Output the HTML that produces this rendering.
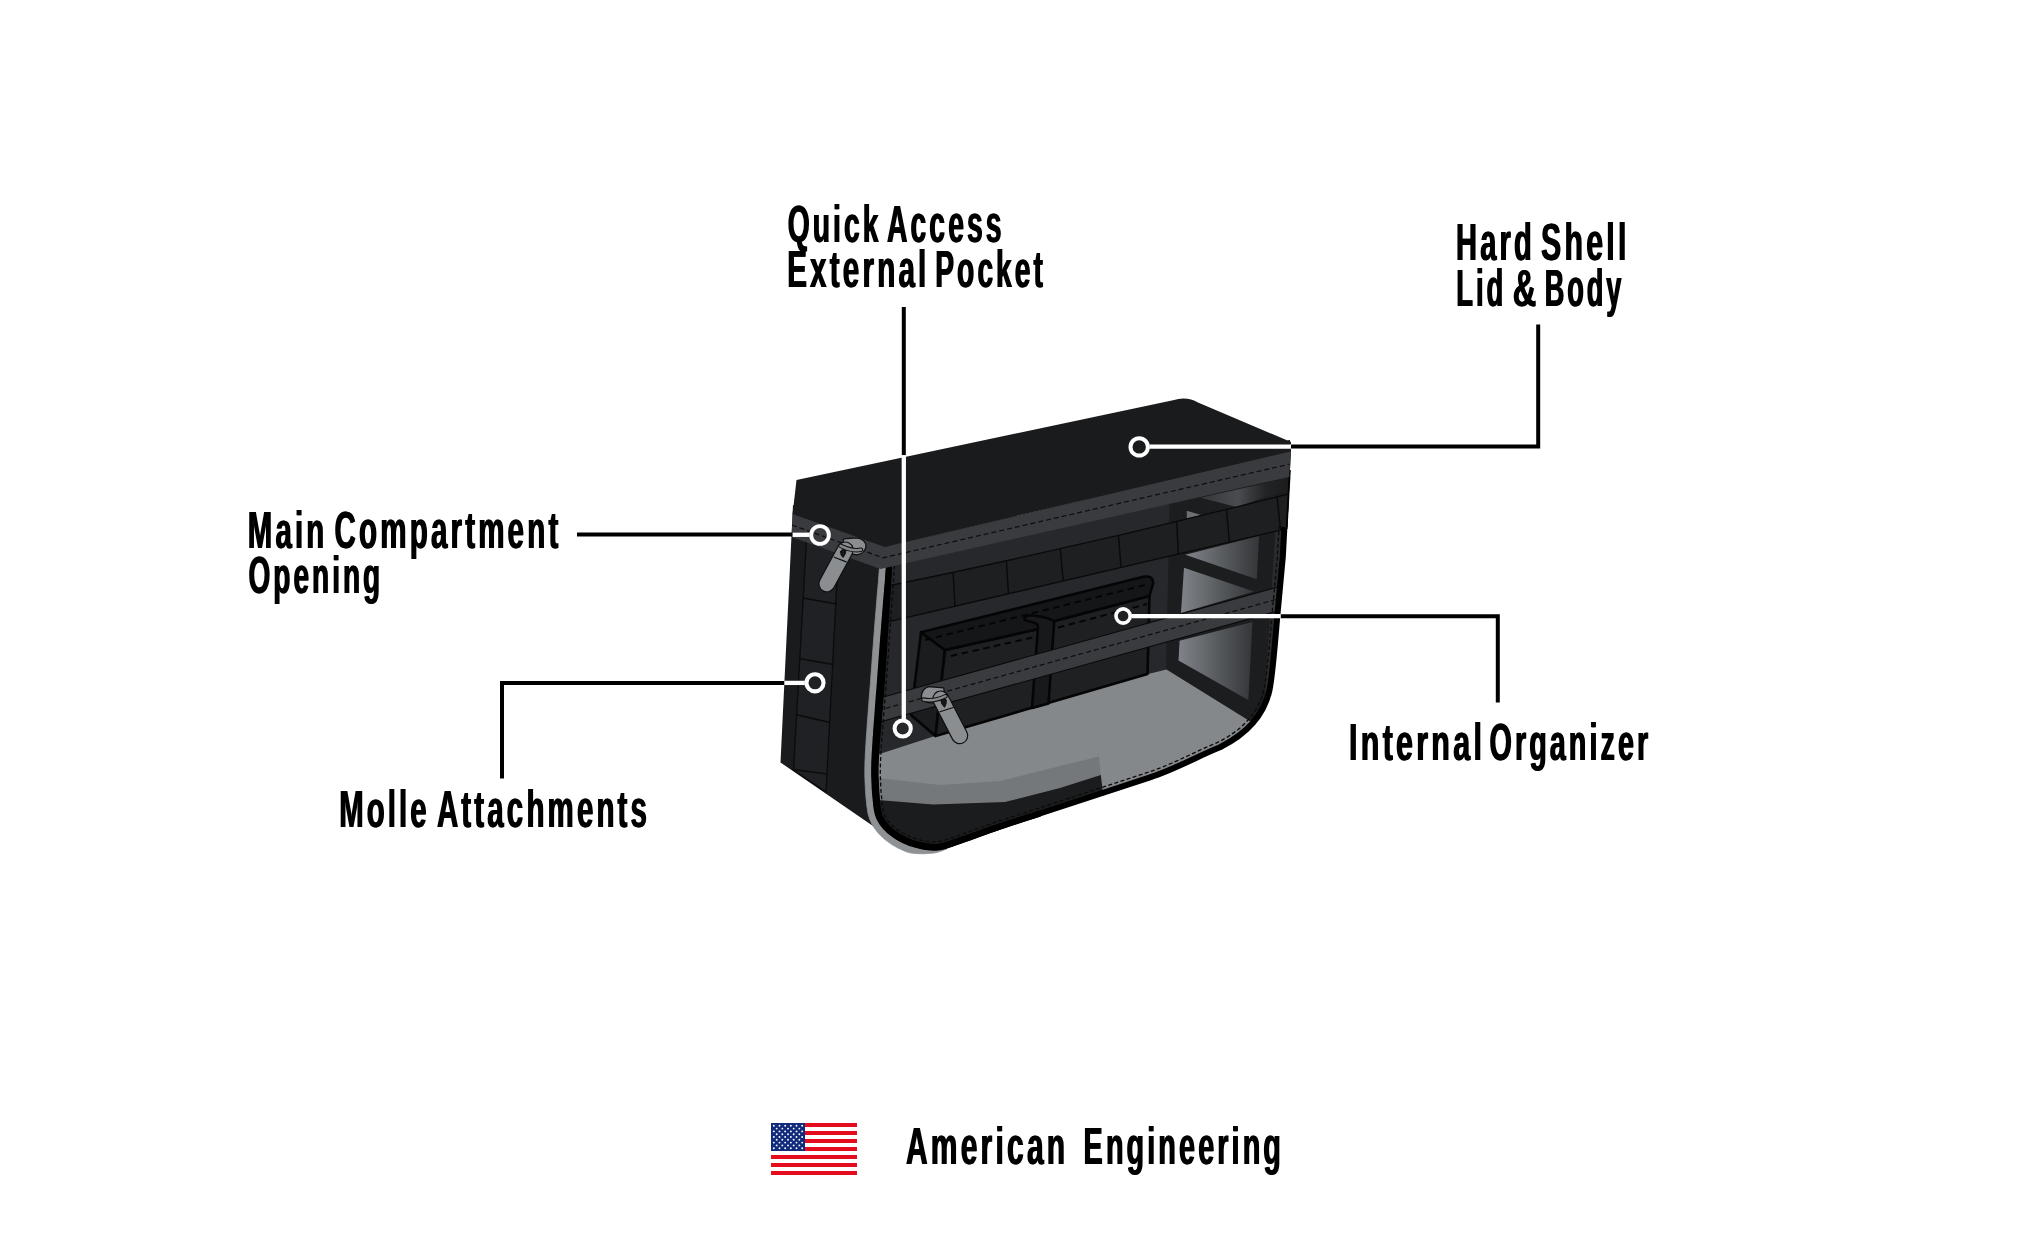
<!DOCTYPE html>
<html lang="en"><head><meta charset="utf-8"><title>American Engineering</title>
<style>
html,body{margin:0;padding:0;background:#fff;}
body{width:2044px;height:1248px;overflow:hidden;}
svg{display:block}
.lbl text{font-family:"Liberation Sans",sans-serif;font-weight:bold;font-size:51.4px;letter-spacing:5.5px;fill:#000}
</style></head><body>
<svg width="2044" height="1248" viewBox="0 0 2044 1248">
<rect width="2044" height="1248" fill="#fff"/>
<defs>
<clipPath id="fclip"><path d="M889.4,556.0 L889.4,557.0 L889.3,558.0 L889.3,559.1 L889.3,560.6 L889.2,562.4 L889.1,564.8 L888.9,567.9 L888.7,571.8 L888.4,576.6 L888.0,582.4 L887.5,588.9 L887.0,595.9 L886.5,603.3 L885.9,610.7 L885.4,618.0 L884.9,625.0 L884.4,631.9 L883.9,639.1 L883.4,646.4 L882.9,653.6 L882.4,660.8 L881.9,667.6 L881.5,674.1 L881.0,680.0 L880.7,685.4 L880.3,690.3 L879.9,694.8 L879.6,699.1 L879.2,703.1 L878.9,707.1 L878.6,711.0 L878.3,715.0 L878.0,719.0 L877.7,723.0 L877.4,726.9 L877.0,730.8 L876.8,734.5 L876.5,738.1 L876.2,741.6 L876.0,745.0 L875.8,748.3 L875.6,751.4 L875.4,754.5 L875.3,757.4 L875.2,760.3 L875.0,763.0 L875.0,765.6 L874.9,768.0 L874.9,770.3 L874.9,772.4 L874.9,774.3 L874.9,776.1 L875.0,777.9 L875.1,779.6 L875.1,781.3 L875.2,783.0 L875.3,784.7 L875.3,786.3 L875.4,787.9 L875.5,789.5 L875.6,791.1 L875.7,792.6 L875.9,794.3 L876.0,796.0 L876.2,797.8 L876.3,799.8 L876.5,801.8 L876.7,803.8 L876.9,805.8 L877.1,807.8 L877.4,809.6 L877.7,811.2 L878.0,812.6 L878.4,814.0 L878.8,815.1 L879.2,816.3 L879.6,817.3 L880.1,818.4 L880.7,819.4 L881.3,820.5 L882.0,821.6 L882.7,822.7 L883.5,823.8 L884.4,824.9 L885.3,826.0 L886.2,827.1 L887.2,828.1 L888.3,829.2 L889.4,830.3 L890.7,831.3 L891.9,832.4 L893.3,833.4 L894.7,834.5 L896.1,835.4 L897.5,836.4 L899.0,837.3 L900.5,838.2 L902.1,839.0 L903.7,839.8 L905.3,840.5 L907.0,841.3 L908.6,842.0 L910.3,842.6 L912.0,843.2 L913.7,843.8 L915.4,844.3 L917.2,844.8 L918.9,845.2 L920.7,845.6 L922.5,845.9 L924.2,846.2 L926.0,846.5 L927.7,846.7 L929.4,846.9 L931.0,847.1 L932.6,847.3 L934.3,847.3 L936.1,847.3 L938.0,847.1 L940.0,846.9 L942.1,846.4 L944.1,845.9 L946.2,845.3 L948.4,844.6 L950.8,843.8 L953.5,842.9 L956.5,841.8 L960.0,840.6 L964.0,839.2 L968.6,837.6 L973.5,835.8 L978.8,834.0 L984.1,832.1 L989.5,830.1 L994.9,828.3 L1000.0,826.5 L1005.3,824.7 L1010.9,822.9 L1016.8,821.0 L1022.5,819.1 L1027.9,817.4 L1032.8,815.8 L1036.9,814.5 L1040.0,813.5 L1150,777.3 C1175,769.4 1198,756 1220,747.3 C1240,737.3 1263,720 1269.5,690 C1272.5,676 1276,632 1277.3,616 L1282.8,557 L1284.4,527 L1287.4,527 L1290.8,452 L1290,440 Z"/></clipPath>
<linearGradient id="gOpen" x1="0" y1="0" x2="1" y2="0"><stop offset="0" stop-color="#80848a"/><stop offset="0.5" stop-color="#5a5d60"/><stop offset="1" stop-color="#34363a"/></linearGradient>
<linearGradient id="gTop" gradientUnits="userSpaceOnUse" x1="1195" y1="0" x2="1290" y2="0"><stop offset="0" stop-color="#303235"/><stop offset="0.45" stop-color="#4a4c4f"/><stop offset="0.75" stop-color="#222325"/><stop offset="1" stop-color="#1a1b1d"/></linearGradient>
</defs>
<g id="bag">
<!-- left side panel -->
<path d="M793,505 L890,540 L884,700 L877,780 L890,836 L873,826 L780.5,762.5 Z" fill="#1a1b1d"/>
<!-- side molle strip -->
<path d="M806.5,540 L838.5,552 L826,792 L793.5,770 Z" fill="#202124" stroke="#0b0b0c" stroke-width="1.3"/>
<g stroke="#0b0b0c" stroke-width="1.5" fill="none">
<path d="M803,598 L836.5,604"/><path d="M800,658.7 L833.5,664.4"/><path d="M796.7,714.7 L830,722.6"/><path d="M793.8,769.5 L827,774"/>
</g>
<!-- piping (gray) -->
<path d="M886.4,555.9 L886.4,556.9 L886.3,557.9 L886.3,559.1 L886.3,560.5 L886.2,562.3 L886.1,564.7 L885.9,567.7 L885.6,571.6 L885.2,576.4 L884.8,582.2 L884.2,588.7 L883.6,595.7 L883.0,603.0 L882.4,610.4 L881.8,617.7 L881.2,624.7 L880.7,631.7 L880.1,638.8 L879.6,646.1 L879.0,653.4 L878.5,660.5 L878.0,667.3 L877.5,673.8 L877.1,679.7 L876.7,685.1 L876.3,690.0 L875.9,694.5 L875.6,698.7 L875.3,702.8 L875.0,706.8 L874.7,710.7 L874.4,714.7 L874.1,718.7 L873.8,722.7 L873.5,726.6 L873.2,730.4 L873.0,734.2 L872.7,737.8 L872.5,741.4 L872.3,744.8 L872.1,748.0 L871.9,751.2 L871.7,754.3 L871.6,757.3 L871.4,760.1 L871.3,762.8 L871.3,765.4 L871.2,767.9 L871.2,770.2 L871.2,772.4 L871.2,774.4 L871.2,776.2 L871.3,778.0 L871.4,779.7 L871.4,781.4 L871.5,783.2 L871.6,784.9 L871.6,786.5 L871.7,788.1 L871.8,789.7 L871.9,791.3 L872.0,792.9 L872.2,794.6 L872.3,796.3 L872.5,798.1 L872.7,800.1 L872.9,802.1 L873.1,804.2 L873.3,806.2 L873.6,808.2 L873.9,810.2 L874.3,811.9 L874.6,813.5 L875.0,814.9 L875.5,816.3 L875.9,817.5 L876.4,818.8 L877.0,819.9 L877.6,821.1 L878.3,822.3 L879.0,823.5 L879.8,824.7 L880.7,825.9 L881.6,827.1 L882.6,828.3 L883.6,829.5 L884.7,830.6 L885.9,831.7 L887.1,832.9 L888.4,834.0 L889.7,835.1 L891.2,836.2 L892.6,837.3 L894.1,838.3 L895.7,839.4 L897.2,840.3 L898.8,841.2 L900.5,842.1 L902.1,842.9 L903.9,843.7 L905.6,844.5 L907.3,845.2 L909.1,845.9 L910.9,846.5 L912.7,847.1 L914.5,847.6 L916.3,848.1 L918.1,848.6 L920.0,849.0 L921.8,849.4 L923.7,849.7 L925.5,850.0 L927.2,850.2 L928.9,850.4 L930.6,850.6 L932.4,850.7 L934.3,850.8 L936.3,850.7 L938.3,850.5 L940.6,850.2 L942.8,849.7 L945.0,849.2 L947.2,848.6 L947.2,848.6 L945.1,849.5 L943.0,850.5 L940.8,851.3 L938.5,852.0 L936.4,852.6 L934.3,853.0 L932.3,853.2 L930.4,853.4 L928.5,853.5 L926.8,853.6 L925.0,853.7 L923.1,853.8 L921.0,853.7 L919.0,853.7 L917.0,853.6 L914.9,853.4 L912.9,853.2 L910.8,852.9 L908.8,852.6 L906.9,851.9 L905.0,851.2 L903.1,850.4 L901.2,849.6 L899.4,848.7 L897.5,847.8 L895.7,846.8 L894.0,845.8 L892.2,844.8 L890.5,843.6 L888.9,842.5 L887.3,841.3 L885.7,840.1 L884.2,838.9 L882.8,837.6 L881.5,836.4 L880.2,835.1 L878.9,833.8 L877.7,832.5 L876.6,831.1 L875.6,829.7 L874.6,828.4 L873.6,826.9 L872.8,825.5 L872.0,824.2 L871.3,822.8 L870.6,821.4 L870.0,819.9 L869.4,818.3 L868.9,816.7 L868.4,815.0 L868.0,813.2 L867.6,811.2 L867.3,809.1 L867.0,807.0 L866.7,804.8 L866.5,802.7 L866.3,800.6 L866.1,798.7 L865.9,796.9 L865.8,795.1 L865.6,793.4 L865.5,791.7 L865.4,790.1 L865.3,788.5 L865.3,786.8 L865.2,785.1 L865.1,783.4 L865.0,781.7 L865.0,780.0 L864.9,778.2 L864.8,776.4 L864.8,774.5 L864.8,772.4 L864.8,770.2 L864.8,767.8 L864.9,765.3 L864.9,762.6 L865.1,759.8 L865.2,756.9 L865.3,754.0 L865.5,750.8 L865.7,747.6 L865.9,744.3 L866.1,740.9 L866.3,737.4 L866.6,733.7 L866.9,729.9 L867.1,726.1 L867.4,722.2 L867.7,718.2 L868.0,714.2 L868.3,710.2 L868.6,706.2 L868.9,702.3 L869.2,698.2 L869.6,694.0 L869.9,689.5 L870.3,684.6 L870.7,679.2 L871.1,673.3 L871.6,666.9 L872.1,660.0 L872.6,652.9 L873.2,645.7 L873.7,638.4 L874.3,631.2 L874.8,624.3 L875.4,617.3 L876.0,610.0 L876.6,602.6 L877.2,595.2 L877.8,588.2 L878.4,581.7 L878.8,576.0 L879.2,571.2 L879.5,567.4 L879.7,564.4 L879.8,562.0 L879.9,560.3 L879.9,558.9 L879.9,557.8 L880.0,556.7 L880.0,555.7 Z" fill="#8f9295" stroke="#8f9295" stroke-width="0.8"/>
<!-- front panel interior -->
<g clip-path="url(#fclip)">
<rect x="860" y="430" width="450" height="440" fill="#26282b"/>
<!-- end wall base -->
<path d="M1171,440 L1300,440 L1300,740 L1250,722 L1166,670 Z" fill="#1c1d1f"/>
<!-- back wall strip left of post (slightly lighter) -->
<!-- openings -->
<path d="M1200.5,497.7 L1289,478 L1289,489 L1236.6,507 Z" fill="url(#gTop)"/>
<path d="M1186.8,510.7 L1201.2,515 L1186.8,518.5 Z" fill="#6d6f72"/>
<path d="M1185.3,554.7 L1259,536 L1256.8,579.2 Z" fill="url(#gOpen)"/>
<path d="M1184,567.7 L1254,591.5 L1181,613 Z" fill="url(#gOpen)"/>
<path d="M1179.6,640.8 L1252.5,622 L1248.3,700 L1178.5,660.6 Z" fill="url(#gOpen)"/>
<!-- right inner band (lighter) -->
<path d="M1275.6,527 L1292,527 L1280,740 L1262,740 Z" fill="#2a2b2e"/>
<!-- floor -->
<path d="M878,754.5 L935,736 L1144,675 L1166.5,669.5 L1252,722.5 L1320,700 L1320,900 L878,900 Z" fill="#85888b"/>
<!-- strip -->
<path d="M878,778 L940,785 L1000,781 L1060,766 L1099,756.5 L1100.9,776 L1060,789 L1005,803 L933,805.5 L878,801 Z" fill="#74787b"/>
<!-- dark patch -->
<path d="M878,800 L933,804.5 L1005,802 L1060,788 L1100.8,775 L1102.5,789 L1102.5,900 L878,900 Z" fill="#1b1c1d"/>
<!-- pouch -->
<g stroke="#050505" stroke-width="2.6" stroke-linejoin="round">
<path d="M921,632.3 L945,650 L935.5,736 L911,715 Z" fill="#1b1c1e"/>
<path d="M945,650 L1039.3,628.8 L1054.3,621 L1149.5,596 L1147.5,674 L935.5,736 Z" fill="#1f2022"/>
<path d="M921,632.3 L1143.3,576.8 Q1152.5,575 1153.2,583 L1149.5,596 L1054.3,621 L1039.3,628.8 L945,650 Z" fill="#151617"/>
<!-- strap -->
<path d="M1038,626.5 C1038,623.3 1034.4,622.3 1028.1,621.2 C1024.5,620.4 1023.4,618 1025.6,616.6 C1028,615.2 1034,615.4 1040,616.6 C1046,617.8 1051,619.3 1054.2,621.2 L1048.5,703.5 L1032,708 Z" fill="#18191b"/>
</g>
<g stroke="#050505" stroke-width="2" fill="none" stroke-dasharray="6.5 4.5">
<path d="M925,640 L1147,584.5"/>
<path d="M951,656 L1037,636.5"/><path d="M1058,627.5 L1147,604"/>
</g>
<!-- molle row -->
<path d="M878,588 Q1085,545.8 1292,493 L1292,527.5 L878,624.2 Z" fill="#1e1f21" stroke="#0a0a0b" stroke-width="1.3"/>
<g stroke="#0a0a0b" stroke-width="1.4" fill="none">
<path d="M953,572.4 L955,606.2"/><path d="M1006.3,560.8 L1008.5,593.7"/><path d="M1060.3,548.8 L1063.2,580.9"/><path d="M1118.5,535.4 L1121,567.4"/><path d="M1176.7,521.6 L1178.3,554.1"/><path d="M1226.5,509.4 L1229.4,542.1"/><path d="M1277,496.8 L1280.6,530.2"/>
</g>
<!-- band 2 -->
<path d="M878,698.5 L1292,583 L1292,607 L878,722.5 Z" fill="#3a3b3f" stroke="#0a0a0b" stroke-width="1.2"/>
<path d="M878,710.5 L1292,595" fill="none" stroke="#0d0d0e" stroke-width="1.2" stroke-dasharray="5 3"/>
<!-- stitch lines -->
<path d="M894.7,559.1 L894.7,560.8 L894.6,562.7 L894.5,565.1 L894.3,568.2 L894.1,572.1 L893.8,577.0 L893.4,582.8 L892.9,589.3 L892.4,596.3 L891.9,603.7 L891.3,611.1 L890.8,618.4 L890.3,625.4 L889.8,632.3 L889.3,639.5 L888.8,646.8 L888.3,654.0 L887.8,661.2 L887.3,668.0 L886.9,674.5 L886.4,680.4 L886.1,685.8 L885.7,690.8 L885.3,695.2 L885.0,699.6 L884.6,703.6 L884.3,707.5 L884.0,711.4 L883.7,715.4 L883.4,719.4 L883.1,723.4 L882.8,727.4 L882.4,731.2 L882.2,734.9 L881.9,738.6 L881.6,742.0 L881.4,745.3 L881.2,748.6 L881.0,751.7 L880.8,754.8 L880.7,757.6 L880.6,760.6 L880.4,763.2 L880.4,765.7 L880.3,768.1 L880.3,770.3 L880.3,772.4 L880.3,774.3 L880.3,776.0 L880.4,777.6 L880.5,779.4 L880.5,781.1 L880.6,782.7 L880.7,784.5 L880.7,786.1 L880.8,787.6 L880.9,789.2 L881.0,790.8 L881.1,792.1 L881.3,793.8 L881.4,795.5 L881.6,797.4 L881.7,799.4 L881.9,801.3 L882.1,803.3 L882.3,805.3 L882.5,807.1 L882.7,808.7 L883.0,810.1 L883.2,811.3 L883.5,812.4 L883.9,813.3 L884.3,814.5 L884.6,815.2 L884.9,815.9 L885.4,816.7 L885.9,817.8 L886.6,818.7 L887.2,819.7 L887.8,820.5 L888.6,821.5 L889.5,822.6 L890.2,823.5 L891.0,824.3 L892.1,825.4 L893.0,826.2 L894.2,827.2 L895.3,828.2 L896.5,829.1 L897.8,830.1 L899.1,830.9 L900.5,831.9 L901.8,832.7 L903.1,833.5 L904.5,834.2 L906.0,834.9 L907.5,835.6 L909.2,836.4 L910.6,837.0 L912.1,837.5 L913.8,838.1 L915.4,838.7 L916.9,839.1 L918.5,839.6 L920.1,839.9 L921.7,840.3 L923.4,840.6 L925.1,840.9 L926.8,841.2 L928.3,841.3 L930.0,841.5 L931.7,841.7 L932.9,841.9 L934.3,841.9 L935.8,841.9 L937.4,841.7 L939.1,841.6 L940.8,841.2 L942.7,840.7 L944.6,840.1 L946.7,839.5 L949.1,838.7 L951.7,837.8 L954.7,836.7 L958.2,835.5 L962.2,834.1 L966.8,832.5 L971.7,830.7 L977.0,828.9 L982.3,827.0 L987.7,825.0 L993.1,823.2 L998.2,821.4 L1003.6,819.6 L1009.2,817.8 L1015.1,815.9 L1020.8,814.0 L1026.3,812.3 L1031.1,810.7 L1035.3,809.4 L1038.3,808.4 L1044.1,806.5 L1049.9,804.6 L1055.7,802.7 L1061.5,800.7 L1067.3,798.8 L1073.0,796.9 L1078.8,795.0 L1084.6,793.1 L1090.4,791.2 L1096.2,789.3 L1102.0,787.4 L1107.8,785.5 L1113.6,783.6 L1119.4,781.7 L1125.2,779.8 L1130.9,777.9 L1136.7,776.0 L1142.5,774.1 L1148.3,772.2 L1154.4,770.1 L1160.4,767.9 L1166.3,765.5 L1172.2,763.0 L1178.0,760.4 L1183.8,757.7 L1189.6,755.0 L1195.3,752.3 L1201.0,749.6 L1206.7,747.1 L1212.4,744.6 L1217.7,742.4 L1222.4,739.9 L1227.3,737.1 L1232.2,733.9 L1237.0,730.4 L1241.6,726.6 L1245.9,722.4 L1250.0,717.8 L1253.8,712.9 L1257.1,707.6 L1260.0,701.8 L1262.4,695.6 L1264.2,688.7 L1264.9,685.0 L1265.7,680.0 L1266.4,674.1 L1267.2,667.6 L1267.9,660.5 L1268.7,653.2 L1269.3,645.9 L1270.0,638.7 L1270.6,631.9 L1271.1,625.6 L1271.5,620.1 L1271.9,615.5 L1272.5,608.9 L1273.1,602.4 L1273.8,595.8 L1274.4,589.3 L1275.0,582.7 L1275.6,576.2 L1276.2,569.6 L1276.8,563.1 L1277.4,556.6 L1277.7,550.7 L1278.0,544.7 L1278.4,538.7 L1278.7,532.7 L1279.0,526.7" fill="none" stroke="#0a0a0b" stroke-width="1.3" stroke-dasharray="4 2.4"/>
</g>
<!-- outline -->
<path d="M889.4,556.0 L889.4,557.0 L889.3,558.0 L889.3,559.1 L889.3,560.6 L889.2,562.4 L889.1,564.8 L888.9,567.9 L888.7,571.8 L888.4,576.6 L888.0,582.4 L887.5,588.9 L887.0,595.9 L886.5,603.3 L885.9,610.7 L885.4,618.0 L884.9,625.0 L884.4,631.9 L883.9,639.1 L883.4,646.4 L882.9,653.6 L882.4,660.8 L881.9,667.6 L881.5,674.1 L881.0,680.0 L880.7,685.4 L880.3,690.3 L879.9,694.8 L879.6,699.1 L879.2,703.1 L878.9,707.1 L878.6,711.0 L878.3,715.0 L878.0,719.0 L877.7,723.0 L877.4,726.9 L877.0,730.8 L876.8,734.5 L876.5,738.1 L876.2,741.6 L876.0,745.0 L875.8,748.3 L875.6,751.4 L875.4,754.5 L875.3,757.4 L875.2,760.3 L875.0,763.0 L875.0,765.6 L874.9,768.0 L874.9,770.3 L874.9,772.4 L874.9,774.3 L874.9,776.1 L875.0,777.9 L875.1,779.6 L875.1,781.3 L875.2,783.0 L875.3,784.7 L875.3,786.3 L875.4,787.9 L875.5,789.5 L875.6,791.1 L875.7,792.6 L875.9,794.3 L876.0,796.0 L876.2,797.8 L876.3,799.8 L876.5,801.8 L876.7,803.8 L876.9,805.8 L877.1,807.8 L877.4,809.6 L877.7,811.2 L878.0,812.6 L878.4,814.0 L878.8,815.1 L879.2,816.3 L879.6,817.3 L880.1,818.4 L880.7,819.4 L881.3,820.5 L882.0,821.6 L882.7,822.7 L883.5,823.8 L884.4,824.9 L885.3,826.0 L886.2,827.1 L887.2,828.1 L888.3,829.2 L889.4,830.3 L890.7,831.3 L891.9,832.4 L893.3,833.4 L894.7,834.5 L896.1,835.4 L897.5,836.4 L899.0,837.3 L900.5,838.2 L902.1,839.0 L903.7,839.8 L905.3,840.5 L907.0,841.3 L908.6,842.0 L910.3,842.6 L912.0,843.2 L913.7,843.8 L915.4,844.3 L917.2,844.8 L918.9,845.2 L920.7,845.6 L922.5,845.9 L924.2,846.2 L926.0,846.5 L927.7,846.7 L929.4,846.9 L931.0,847.1 L932.6,847.3 L934.3,847.3 L936.1,847.3 L938.0,847.1 L940.0,846.9 L942.1,846.4 L944.1,845.9 L946.2,845.3 L948.4,844.6 L950.8,843.8 L953.5,842.9 L956.5,841.8 L960.0,840.6 L964.0,839.2 L968.6,837.6 L973.5,835.8 L978.8,834.0 L984.1,832.1 L989.5,830.1 L994.9,828.3 L1000.0,826.5 L1005.3,824.7 L1010.9,822.9 L1016.8,821.0 L1022.5,819.1 L1027.9,817.4 L1032.8,815.8 L1036.9,814.5 L1040.0,813.5 L1150,777.3 C1175,769.4 1198,756 1220,747.3 C1240,737.3 1263,720 1269.5,690 C1272.5,676 1276,632 1277.3,616 L1282.8,557 L1284.4,527" fill="none" stroke="#000" stroke-width="6"/>
<path d="M892.4,556.1 L892.4,557.0 L892.4,558.0 L892.3,559.2 L892.3,560.7 L892.2,562.6 L892.1,565.0 L892.0,568.1 L891.8,572.0 L891.5,576.9 L891.2,582.7 L890.8,589.2 L890.4,596.2 L889.9,603.5 L889.5,611.0 L889.0,618.3 L888.6,625.3 L888.2,632.2 L887.7,639.4 L887.3,646.6 L886.8,653.9 L886.3,661.0 L885.9,667.9 L885.5,674.4 L885.0,680.3 L884.6,685.7 L884.3,690.6 L883.9,695.1 L883.5,699.4 L883.2,703.4 L882.9,707.4 L882.5,711.3 L882.2,715.3 L881.9,719.3 L881.5,723.3 L881.2,727.2 L880.9,731.1 L880.5,734.8 L880.3,738.4 L880.0,741.9 L879.7,745.2 L879.5,748.5 L879.3,751.6 L879.2,754.7 L879.0,757.6 L878.9,760.4 L878.8,763.1 L878.7,765.7 L878.6,768.1 L878.6,770.3 L878.6,772.3 L878.6,774.2 L878.6,776.0 L878.7,777.7 L878.8,779.4 L878.8,781.1 L878.9,782.8 L879.0,784.5 L879.0,786.2 L879.1,787.7 L879.2,789.3 L879.3,790.8 L879.4,792.4 L879.6,794.0 L879.7,795.7 L879.8,797.5 L880.0,799.5 L880.1,801.5 L880.3,803.5 L880.4,805.4 L880.6,807.3 L880.9,809.0 L881.1,810.5 L881.4,811.8 L881.7,813.0 L882.1,814.0 L882.4,815.0 L882.8,815.9 L883.2,816.8 L883.7,817.7 L884.3,818.7 L884.9,819.7 L885.6,820.7 L886.3,821.7 L887.1,822.7 L887.9,823.7 L888.8,824.7 L889.7,825.7 L890.7,826.7 L891.8,827.7 L892.9,828.7 L894.1,829.7 L895.4,830.6 L896.7,831.6 L898.0,832.5 L899.4,833.4 L900.8,834.3 L902.2,835.1 L903.7,835.9 L905.2,836.6 L906.7,837.4 L908.3,838.1 L909.9,838.7 L911.5,839.3 L913.1,839.9 L914.8,840.4 L916.4,840.9 L918.1,841.4 L919.7,841.8 L921.4,842.2 L923.1,842.5 L924.8,842.8 L926.5,843.0 L928.2,843.3 L929.8,843.5 L931.3,843.7 L932.8,843.8 L934.3,843.9 L935.9,843.9 L937.6,843.8 L939.4,843.5 L941.3,843.1 L943.2,842.7 L945.2,842.1 L947.3,841.4 L949.7,840.7 L952.4,839.7 L955.4,838.7 L958.9,837.5 L963.0,836.1 L967.5,834.5 L972.4,832.8 L977.7,830.9 L983.0,829.0 L988.5,827.1 L993.8,825.3 L999.0,823.5 L1004.3,821.8 L1010.0,819.9 L1015.8,818.0 L1021.6,816.2 L1027.0,814.5 L1031.9,812.9 L1036.0,811.6 L1039.1,810.6 L1040.9,816.4 L1037.8,817.4 L1033.7,818.7 L1028.9,820.3 L1023.4,822.0 L1017.7,823.9 L1011.9,825.8 L1006.3,827.7 L1001.0,829.5 L995.9,831.3 L990.6,833.1 L985.2,835.1 L979.8,837.0 L974.6,838.9 L969.7,840.7 L965.1,842.3 L961.1,843.7 L957.6,844.9 L954.6,846.0 L951.9,847.0 L949.4,847.8 L947.2,848.6 L945.0,849.2 L942.8,849.7 L940.6,850.2 L938.3,850.5 L936.3,850.7 L934.3,850.8 L932.4,850.7 L930.6,850.6 L928.9,850.4 L927.2,850.2 L925.5,850.0 L923.7,849.7 L921.8,849.4 L920.0,849.0 L918.1,848.6 L916.3,848.1 L914.5,847.6 L912.7,847.1 L910.9,846.5 L909.1,845.9 L907.3,845.2 L905.6,844.5 L903.9,843.7 L902.1,842.9 L900.5,842.1 L898.8,841.2 L897.2,840.3 L895.7,839.4 L894.1,838.3 L892.6,837.3 L891.2,836.2 L889.7,835.1 L888.4,834.0 L887.1,832.9 L885.9,831.7 L884.7,830.6 L883.6,829.5 L882.6,828.3 L881.6,827.1 L880.7,825.9 L879.8,824.7 L879.0,823.5 L878.3,822.3 L877.6,821.1 L877.0,819.9 L876.4,818.8 L875.9,817.5 L875.5,816.3 L875.0,814.9 L874.6,813.5 L874.3,811.9 L873.9,810.2 L873.6,808.2 L873.3,806.2 L873.1,804.2 L872.9,802.1 L872.7,800.1 L872.5,798.1 L872.3,796.3 L872.2,794.6 L872.0,792.9 L871.9,791.3 L871.8,789.7 L871.7,788.1 L871.6,786.5 L871.6,784.9 L871.5,783.2 L871.4,781.4 L871.4,779.7 L871.3,778.0 L871.2,776.2 L871.2,774.4 L871.2,772.4 L871.2,770.2 L871.2,767.9 L871.3,765.4 L871.3,762.8 L871.4,760.1 L871.6,757.3 L871.7,754.3 L871.9,751.2 L872.1,748.0 L872.3,744.8 L872.5,741.4 L872.7,737.8 L873.0,734.2 L873.2,730.4 L873.5,726.6 L873.8,722.7 L874.1,718.7 L874.4,714.7 L874.7,710.7 L875.0,706.8 L875.3,702.8 L875.6,698.7 L875.9,694.5 L876.3,690.0 L876.7,685.1 L877.1,679.7 L877.5,673.8 L878.0,667.3 L878.5,660.5 L879.0,653.4 L879.6,646.1 L880.1,638.8 L880.7,631.7 L881.2,624.7 L881.8,617.7 L882.4,610.4 L883.0,603.0 L883.6,595.7 L884.2,588.7 L884.8,582.2 L885.2,576.4 L885.6,571.6 L885.9,567.7 L886.1,564.7 L886.2,562.3 L886.3,560.5 L886.3,559.1 L886.3,557.9 L886.4,556.9 L886.4,555.9 Z" fill="#000"/>
<path d="M1286.6,529 L1289.9,470" fill="none" stroke="#000" stroke-width="1.8"/>
<!-- band 1 -->
<path d="M792.6,513.5 L885,546.5 L1290.6,451 L1289.2,477 L880.5,569 L791.6,537 Z" fill="#3a3b3f"/>
<path d="M792,525 L883,557.8 L1290,464" fill="none" stroke="#0d0d0e" stroke-width="1.2" stroke-dasharray="5 3"/>
<!-- lid -->
<path d="M796.5,480 L1173,400.2 Q1187,395.8 1198,402.6 L1291,442 L1290.6,451.4 L885,547 L792.6,514 Z" fill="#1a1b1d"/>
<!-- zipper 1 -->
<g stroke-linecap="round" stroke-linejoin="round">
<path d="M843.7,538.8 L857,537.8 Q866,539.5 866,546.5 Q865,553.5 857,554.8 L848.5,553.5 L842.5,544 Z" fill="#8b8e91" stroke="#101011" stroke-width="1.3"/>
<path d="M845.2,550 L826.9,583.85" stroke="#101011" stroke-width="17.2" fill="none"/>
<path d="M845.2,550 L826.9,583.85" stroke="#8b8e91" stroke-width="14.8" fill="none"/>
<path d="M834.3,557.2 L846.2,561.9" stroke="#101011" stroke-width="1.2" fill="none"/>
<path d="M840.6,551.8 Q842,548 846,549.5 Q846.5,553 843.2,557.4 Q840.4,556 840.6,551.8 Z" fill="#151617" stroke="#101011" stroke-width="1"/>
<path d="M840.5,545.8 Q852,551.5 861,549.8" fill="none" stroke="#101011" stroke-width="4.6"/>
<path d="M840.5,545.8 Q852,551.5 861,549.8" fill="none" stroke="#85888b" stroke-width="2.4"/>
</g>
<!-- zipper 2 -->
<g stroke-linecap="round" stroke-linejoin="round">
<path d="M943.7,687.9 L928,686.7 Q921.1,690 921.4,697.2 Q923.8,703.4 934,702.8 L944.9,694.8 Z" fill="#8b8e91" stroke="#101011" stroke-width="1.3"/>
<path d="M940.8,699 L959.7,735.7" stroke="#101011" stroke-width="17.2" fill="none"/>
<path d="M940.8,699 L959.7,735.7" stroke="#8b8e91" stroke-width="14.8" fill="none"/>
<path d="M940,711.8 L953.3,707.5" stroke="#101011" stroke-width="1.2" fill="none"/>
<path d="M940.6,699.5 Q943,697.2 946.2,699.8 Q947,703.5 944.6,707.3 Q941,704.5 940.6,699.5 Z" fill="#151617" stroke="#101011" stroke-width="1"/>
<path d="M923.5,699.6 Q934,701.8 945.5,696.2" fill="none" stroke="#101011" stroke-width="4.6"/>
<path d="M923.5,699.6 Q934,701.8 945.5,696.2" fill="none" stroke="#85888b" stroke-width="2.4"/>
</g>
</g>

<g id="callouts" fill="none" stroke-width="4" stroke-linecap="butt" stroke-linejoin="miter">
<!-- Quick access -->
<path d="M903.8 307V455.2" stroke="#000"/>
<path d="M903.8 455.2V719" stroke="#fff" stroke-width="4.3"/>
<!-- Hard shell -->
<path d="M1538.2 324.5V446.6H1291" stroke="#000"/>
<path d="M1291 446.7H1149.5" stroke="#fff" stroke-width="4.3"/>
<!-- Main compartment -->
<path d="M577 534.6H792.6" stroke="#000"/>
<path d="M792.6 534.8H809.5" stroke="#fff" stroke-width="4.3"/>
<!-- Molle -->
<path d="M502 778.5V683H784.4" stroke="#000"/>
<path d="M784.4 682.9H804.8" stroke="#fff" stroke-width="4.3"/>
<!-- Internal organizer -->
<path d="M1497.8 702.5V616.2H1280.6" stroke="#000"/>
<path d="M1280.6 616.2H1131.5" stroke="#fff" stroke-width="4.3"/>
</g>
<g id="dots" fill="none" stroke="#fff">
<circle cx="902.7" cy="728.5" r="8.1" stroke-width="4"/>
<circle cx="1139.2" cy="446.9" r="8.7" stroke-width="4"/>
<circle cx="820" cy="535" r="8.85" stroke-width="3.9"/>
<circle cx="815" cy="682.8" r="8.55" stroke-width="4.1"/>
<circle cx="1123.1" cy="616" r="7.1" stroke-width="3.6"/>
</g>

<defs><filter id="hx" filterUnits="userSpaceOnUse" x="0" y="0" width="2044" height="1248"><feOffset in="SourceGraphic" dx="1" result="a"/><feMerge><feMergeNode in="a"/><feMergeNode in="SourceGraphic"/></feMerge></filter></defs>
<g class="lbl" filter="url(#hx)">
<text transform="translate(787.30,241.60) scale(0.5503,1)">Quick</text>
<text transform="translate(886.55,241.60) scale(0.5515,1)">Access</text>
<text transform="translate(786.67,286.50) scale(0.5766,1)">External</text>
<text transform="translate(934.75,286.50) scale(0.5495,1)">Pocket</text>
<text transform="translate(1455.60,260.40) scale(0.5661,1)">Hard</text>
<text transform="translate(1540.52,260.40) scale(0.5892,1)">Shell</text>
<text transform="translate(1455.70,305.60) scale(0.5341,1)">Lid</text>
<text transform="translate(1512.23,305.60) scale(0.6333,1)">&amp;</text>
<text transform="translate(1544.21,305.60) scale(0.5289,1)">Body</text>
<text transform="translate(247.28,547.50) scale(0.5724,1)">Main</text>
<text transform="translate(333.95,547.50) scale(0.5754,1)">Compartment</text>
<text transform="translate(247.91,592.50) scale(0.5462,1)">Opening</text>
<text transform="translate(338.69,826.70) scale(0.5705,1)">Molle</text>
<text transform="translate(436.43,826.70) scale(0.5736,1)">Attachments</text>
<text transform="translate(1348.62,759.90) scale(0.5922,1)">Internal</text>
<text transform="translate(1488.98,759.90) scale(0.5594,1)">Organizer</text>
<text transform="translate(905.42,1164.30) scale(0.5840,1)">American</text>
<text transform="translate(1083.12,1164.30) scale(0.5606,1)">Engineering</text>
</g>
<g id="flag">
<rect x="771" y="1123" width="86" height="52" fill="#fff"/>
<rect x="771" y="1123.00" width="86" height="4.00" fill="#e30b1c"/>
<rect x="771" y="1131.00" width="86" height="4.00" fill="#e30b1c"/>
<rect x="771" y="1139.00" width="86" height="4.00" fill="#e30b1c"/>
<rect x="771" y="1147.00" width="86" height="4.00" fill="#e30b1c"/>
<rect x="771" y="1155.00" width="86" height="4.00" fill="#e30b1c"/>
<rect x="771" y="1163.00" width="86" height="4.00" fill="#e30b1c"/>
<rect x="771" y="1171.00" width="86" height="4.00" fill="#e30b1c"/>
<rect x="771" y="1123" width="34" height="28.00" fill="#112a7c"/>
<circle cx="773.83" cy="1125.80" r="0.95" fill="#fff"/>
<circle cx="779.50" cy="1125.80" r="0.95" fill="#fff"/>
<circle cx="785.17" cy="1125.80" r="0.95" fill="#fff"/>
<circle cx="790.83" cy="1125.80" r="0.95" fill="#fff"/>
<circle cx="796.50" cy="1125.80" r="0.95" fill="#fff"/>
<circle cx="802.17" cy="1125.80" r="0.95" fill="#fff"/>
<circle cx="776.67" cy="1128.60" r="0.95" fill="#fff"/>
<circle cx="782.33" cy="1128.60" r="0.95" fill="#fff"/>
<circle cx="788.00" cy="1128.60" r="0.95" fill="#fff"/>
<circle cx="793.67" cy="1128.60" r="0.95" fill="#fff"/>
<circle cx="799.33" cy="1128.60" r="0.95" fill="#fff"/>
<circle cx="773.83" cy="1131.40" r="0.95" fill="#fff"/>
<circle cx="779.50" cy="1131.40" r="0.95" fill="#fff"/>
<circle cx="785.17" cy="1131.40" r="0.95" fill="#fff"/>
<circle cx="790.83" cy="1131.40" r="0.95" fill="#fff"/>
<circle cx="796.50" cy="1131.40" r="0.95" fill="#fff"/>
<circle cx="802.17" cy="1131.40" r="0.95" fill="#fff"/>
<circle cx="776.67" cy="1134.20" r="0.95" fill="#fff"/>
<circle cx="782.33" cy="1134.20" r="0.95" fill="#fff"/>
<circle cx="788.00" cy="1134.20" r="0.95" fill="#fff"/>
<circle cx="793.67" cy="1134.20" r="0.95" fill="#fff"/>
<circle cx="799.33" cy="1134.20" r="0.95" fill="#fff"/>
<circle cx="773.83" cy="1137.00" r="0.95" fill="#fff"/>
<circle cx="779.50" cy="1137.00" r="0.95" fill="#fff"/>
<circle cx="785.17" cy="1137.00" r="0.95" fill="#fff"/>
<circle cx="790.83" cy="1137.00" r="0.95" fill="#fff"/>
<circle cx="796.50" cy="1137.00" r="0.95" fill="#fff"/>
<circle cx="802.17" cy="1137.00" r="0.95" fill="#fff"/>
<circle cx="776.67" cy="1139.80" r="0.95" fill="#fff"/>
<circle cx="782.33" cy="1139.80" r="0.95" fill="#fff"/>
<circle cx="788.00" cy="1139.80" r="0.95" fill="#fff"/>
<circle cx="793.67" cy="1139.80" r="0.95" fill="#fff"/>
<circle cx="799.33" cy="1139.80" r="0.95" fill="#fff"/>
<circle cx="773.83" cy="1142.60" r="0.95" fill="#fff"/>
<circle cx="779.50" cy="1142.60" r="0.95" fill="#fff"/>
<circle cx="785.17" cy="1142.60" r="0.95" fill="#fff"/>
<circle cx="790.83" cy="1142.60" r="0.95" fill="#fff"/>
<circle cx="796.50" cy="1142.60" r="0.95" fill="#fff"/>
<circle cx="802.17" cy="1142.60" r="0.95" fill="#fff"/>
<circle cx="776.67" cy="1145.40" r="0.95" fill="#fff"/>
<circle cx="782.33" cy="1145.40" r="0.95" fill="#fff"/>
<circle cx="788.00" cy="1145.40" r="0.95" fill="#fff"/>
<circle cx="793.67" cy="1145.40" r="0.95" fill="#fff"/>
<circle cx="799.33" cy="1145.40" r="0.95" fill="#fff"/>
<circle cx="773.83" cy="1148.20" r="0.95" fill="#fff"/>
<circle cx="779.50" cy="1148.20" r="0.95" fill="#fff"/>
<circle cx="785.17" cy="1148.20" r="0.95" fill="#fff"/>
<circle cx="790.83" cy="1148.20" r="0.95" fill="#fff"/>
<circle cx="796.50" cy="1148.20" r="0.95" fill="#fff"/>
<circle cx="802.17" cy="1148.20" r="0.95" fill="#fff"/>
</g>
</svg>
</body></html>
